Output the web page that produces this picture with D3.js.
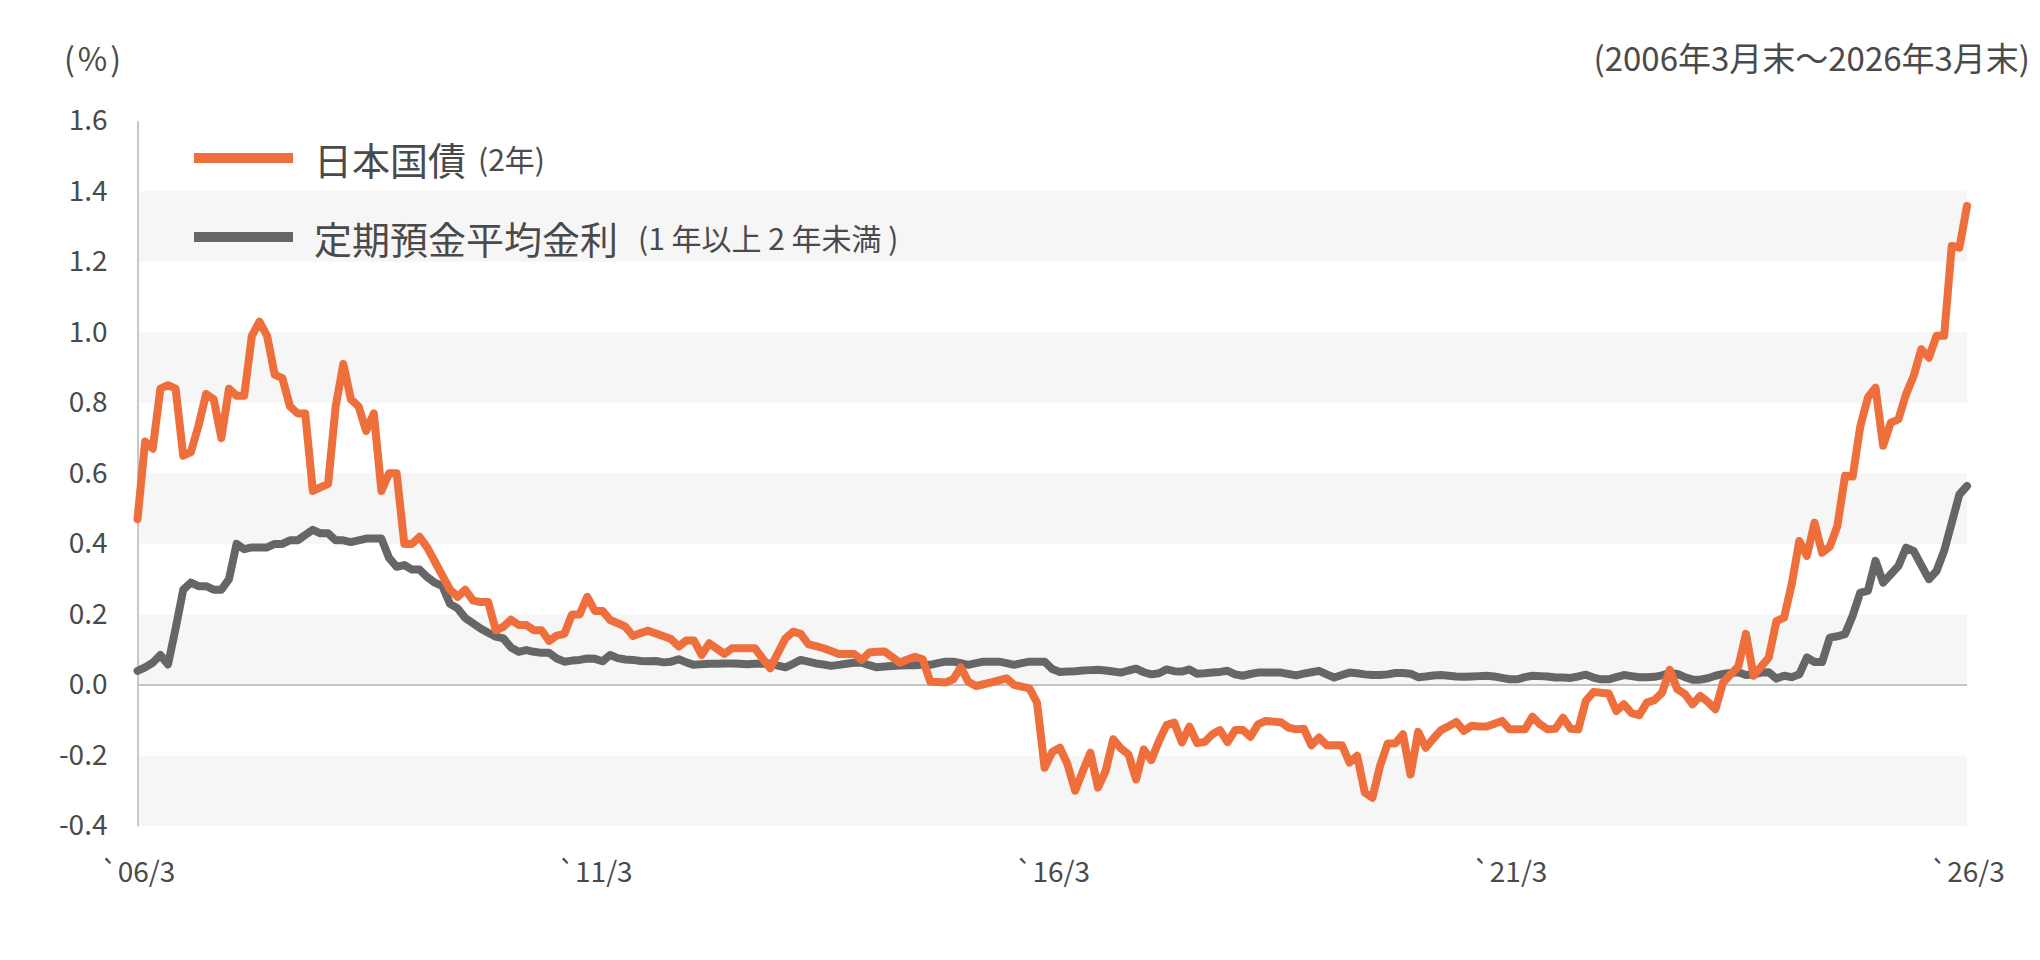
<!DOCTYPE html>
<html><head><meta charset="utf-8">
<script src="https://cdn.jsdelivr.net/npm/d3@7"></script>
<style>
html,body{margin:0;padding:0;background:#fff;}
svg text{font-family:"Noto Sans CJK JP","Noto Sans",sans-serif;fill:#4a4a4a;}
</style></head>
<body><svg id="chart" width="2040" height="960"></svg>
<script>
// x-axis tick labels (month index from 2006/3)
const xTickIdx = [0, 60, 120, 180, 240];
const xTickLabels = ["`06/3", "`11/3", "`16/3", "`21/3", "`26/3"];
const yTicks = [-0.4, -0.2, 0.0, 0.2, 0.4, 0.6, 0.8, 1.0, 1.2, 1.4, 1.6];
const seriesNames = ["日本国債", "定期預金平均金利"];
const seriesNotes = ["(2年)", "(1 年以上 2 年未満 )"];
const unitLabel = "(%)";
const periodLabel = "(2006年3月末～2026年3月末)";

// 日本国債(2年) monthly, 2006/3 .. 2026/3
const jgb2y = [
0.47,0.69,0.67,0.84,0.85,0.84,0.65,0.66,0.735,0.825,0.81,0.70,0.84,0.82,0.82,0.99,1.03,0.99,0.88,0.87,
0.79,0.77,0.77,0.55,0.56,0.57,0.79,0.91,0.81,0.79,0.72,0.77,0.55,0.60,0.60,0.40,0.40,0.42,0.39,0.35,
0.31,0.27,0.25,0.27,0.24,0.235,0.235,0.155,0.165,0.185,0.17,0.17,0.155,0.155,0.125,0.14,0.145,0.20,0.20,0.25,
0.21,0.21,0.184,0.175,0.165,0.139,0.147,0.154,0.146,0.138,0.13,0.109,0.126,0.126,0.085,0.118,0.103,0.088,0.104,0.104,
0.104,0.104,0.075,0.047,0.09,0.132,0.151,0.145,0.116,0.11,0.104,0.096,0.088,0.088,0.088,0.071,0.092,0.094,0.095,0.079,
0.063,0.072,0.08,0.073,0.009,0.008,0.007,0.016,0.05,0.009,-0.003,0.002,0.007,0.013,0.019,0.0,-0.005,-0.01,-0.05,-0.235,
-0.19,-0.178,-0.225,-0.30,-0.245,-0.192,-0.291,-0.244,-0.154,-0.18,-0.197,-0.268,-0.183,-0.213,-0.159,-0.114,-0.107,-0.163,-0.118,-0.165,
-0.162,-0.14,-0.128,-0.162,-0.128,-0.128,-0.147,-0.112,-0.102,-0.104,-0.106,-0.121,-0.126,-0.124,-0.171,-0.149,-0.171,-0.171,-0.171,-0.22,
-0.201,-0.305,-0.32,-0.23,-0.166,-0.166,-0.14,-0.254,-0.133,-0.178,-0.152,-0.128,-0.117,-0.105,-0.13,-0.116,-0.118,-0.118,-0.11,-0.102,
-0.126,-0.126,-0.126,-0.09,-0.112,-0.126,-0.124,-0.093,-0.124,-0.126,-0.045,-0.02,-0.022,-0.024,-0.074,-0.055,-0.08,-0.086,-0.05,-0.043,
-0.022,0.043,-0.012,-0.026,-0.055,-0.031,-0.048,-0.069,0.007,0.03,0.052,0.145,0.026,0.052,0.078,0.181,0.191,0.285,0.408,0.366,
0.46,0.375,0.392,0.451,0.593,0.591,0.733,0.815,0.843,0.678,0.744,0.753,0.824,0.876,0.952,0.928,0.99,0.99,1.245,1.24,
1.358
];

// 定期預金平均金利(1年以上2年未満) monthly, 2006/3 .. 2026/3
const deposit = [
0.04,0.05,0.063,0.085,0.058,0.16,0.27,0.29,0.28,0.28,0.27,0.27,0.30,0.40,0.385,0.39,0.39,0.39,0.40,0.40,
0.41,0.41,0.425,0.44,0.43,0.43,0.41,0.41,0.405,0.41,0.415,0.415,0.415,0.36,0.335,0.34,0.327,0.327,0.306,0.29,
0.28,0.23,0.217,0.19,0.175,0.16,0.148,0.137,0.132,0.106,0.094,0.099,0.094,0.091,0.091,0.075,0.066,0.069,0.071,0.075,
0.074,0.067,0.085,0.076,0.072,0.071,0.068,0.067,0.068,0.064,0.066,0.073,0.064,0.057,0.059,0.06,0.06,0.061,0.061,0.06,
0.059,0.06,0.06,0.061,0.055,0.05,0.06,0.071,0.066,0.061,0.058,0.054,0.057,0.06,0.063,0.063,0.056,0.05,0.052,0.054,
0.055,0.056,0.056,0.057,0.057,0.062,0.066,0.066,0.062,0.057,0.062,0.066,0.066,0.066,0.062,0.057,0.062,0.066,0.066,0.066,
0.045,0.037,0.038,0.039,0.041,0.042,0.043,0.041,0.038,0.035,0.041,0.046,0.036,0.03,0.033,0.044,0.039,0.038,0.044,0.032,
0.033,0.035,0.037,0.04,0.03,0.026,0.031,0.035,0.035,0.035,0.035,0.031,0.027,0.032,0.036,0.04,0.03,0.021,0.028,0.035,
0.033,0.03,0.028,0.028,0.03,0.034,0.034,0.032,0.022,0.024,0.027,0.028,0.026,0.024,0.023,0.024,0.025,0.026,0.024,0.02,
0.016,0.016,0.022,0.026,0.025,0.024,0.021,0.021,0.02,0.024,0.029,0.021,0.016,0.016,0.022,0.028,0.025,0.022,0.022,0.023,
0.027,0.034,0.031,0.022,0.015,0.015,0.019,0.026,0.031,0.034,0.036,0.028,0.03,0.035,0.036,0.018,0.026,0.022,0.03,0.078,
0.065,0.065,0.134,0.138,0.144,0.196,0.262,0.267,0.352,0.29,0.314,0.337,0.389,0.38,0.34,0.30,0.323,0.38,0.46,0.54,
0.564
];

const colors = ["#ee6e3c", "#666666"];

const svg = d3.select("#chart");
const plotLeft = 137.5, plotRight = 1967, plotTop = 120.7, plotBottom = 826;

const x = d3.scaleLinear().domain([0, jgb2y.length - 1]).range([plotLeft, plotRight]);
const y = d3.scaleLinear().domain([-0.4, 1.6]).range([plotBottom, plotTop]);

// alternating bands
const bands = d3.range(0, yTicks.length - 1).filter(i => i % 2 === 0).map(i => [yTicks[i], yTicks[i + 1]]);
svg.append("g").selectAll("rect").data(bands).join("rect")
  .attr("x", plotLeft).attr("width", plotRight - plotLeft)
  .attr("y", d => y(d[1])).attr("height", d => y(d[0]) - y(d[1]))
  .attr("fill", "#f6f6f6");

// zero line
svg.append("line").attr("x1", plotLeft).attr("x2", plotRight)
  .attr("y1", y(0)).attr("y2", y(0))
  .attr("stroke", "#c4c4c4").attr("stroke-width", 2);

// y axis
const yAxis = svg.append("g").attr("transform", `translate(${plotLeft},0)`)
  .call(d3.axisLeft(y).tickValues(yTicks).tickSize(0).tickPadding(30).tickFormat(d => d.toFixed(1)));
yAxis.select(".domain").attr("stroke", "#c8c8c8").attr("stroke-width", 2);
yAxis.selectAll("text").attr("font-size", 28).attr("fill", "#4a4a4a")
  .style("font-family", '"Noto Sans CJK JP"');

// x axis
const xAxis = svg.append("g").attr("transform", `translate(0,${plotBottom})`)
  .call(d3.axisBottom(x).tickValues(xTickIdx).tickSize(0).tickPadding(36)
    .tickFormat((d, i) => xTickLabels[i]));
xAxis.select(".domain").remove();
xAxis.selectAll("text").attr("font-size", 28).attr("fill", "#4a4a4a")
  .style("font-family", '"Noto Sans CJK JP"');

// lines
const line = d3.line().x((d, i) => x(i)).y(d => y(d)).curve(d3.curveLinear);
[deposit, jgb2y].forEach((s, k) => {
  svg.append("path").datum(s)
    .attr("d", line)
    .attr("fill", "none")
    .attr("stroke", k === 0 ? colors[1] : colors[0])
    .attr("stroke-width", 8)
    .attr("stroke-linejoin", "round")
    .attr("stroke-linecap", "round");
});

// legend
const legY = [158, 237];
seriesNames.forEach((name, k) => {
  svg.append("line").attr("x1", 194).attr("x2", 293)
    .attr("y1", legY[k]).attr("y2", legY[k])
    .attr("stroke", colors[k]).attr("stroke-width", 10);
  const t = svg.append("text").attr("x", 314).attr("y", legY[k])
    .attr("dominant-baseline", "central");
  t.append("tspan").attr("font-size", 38).text(name);
  t.append("tspan").attr("font-size", 30).attr("dx", k === 0 ? 12 : 20).text(seriesNotes[k]);
});

// unit & period labels
svg.append("text").attr("x", 64).attr("y", 57).attr("dominant-baseline", "central")
  .attr("font-size", 32).attr("letter-spacing", 3).text(unitLabel);
svg.append("text").attr("x", 2030).attr("y", 57).attr("dominant-baseline", "central")
  .attr("text-anchor", "end").attr("font-size", 33).text(periodLabel);
</script>
</body></html>
